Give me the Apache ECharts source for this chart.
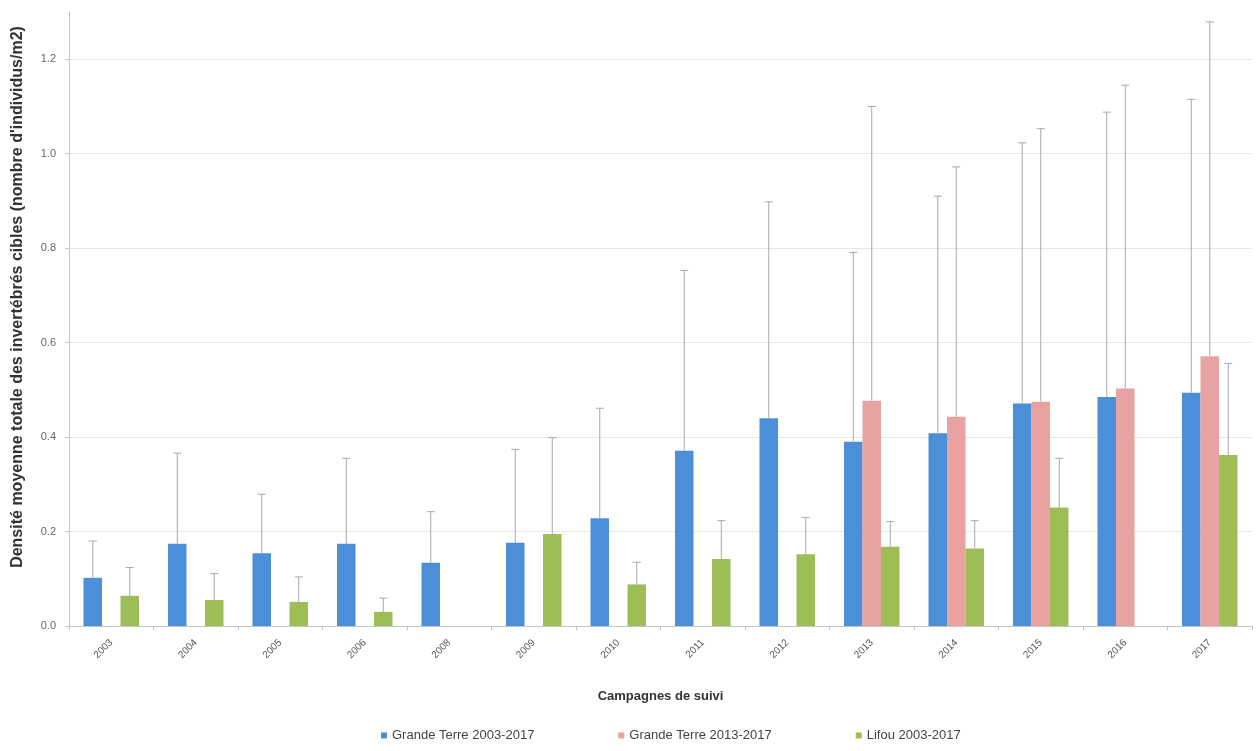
<!DOCTYPE html>
<html>
<head>
<meta charset="utf-8">
<script src="https://cdn.jsdelivr.net/npm/echarts@6/dist/echarts.min.js"></script>
<style>
html,body{margin:0;padding:0;background:#fff;}
#chart{width:1259px;height:751px;}
</style>
</head>
<body>
<div id="chart"></div>
<script>
// ---- data ----
const years = ['2003','2004','2005','2006','2008','2009','2010','2011','2012','2013','2014','2015','2016','2017'];
const seriesNames = ['Grande Terre 2003-2017','Grande Terre 2013-2017','Lifou 2003-2017'];
const gtAll      = [0.102,0.174,0.154,0.174,0.134,0.176,0.228,0.371,0.440,0.390,0.408,0.471,0.485,0.494];
const gtAllErr   = [0.078,0.192,0.125,0.181,0.108,0.198,0.233,0.382,0.458,0.401,0.502,0.552,0.603,0.621];
const gtRecent   = [null,null,null,null,null,null,null,null,null,0.477,0.443,0.475,0.503,0.571];
const gtRecentErr= [null,null,null,null,null,null,null,null,null,0.623,0.529,0.578,0.642,0.708];
const lifou      = [0.064,0.055,0.051,0.030,null,0.195,0.088,0.142,0.152,0.168,0.164,0.251,null,0.362];
const lifouErr   = [0.060,0.056,0.053,0.029,null,0.204,0.047,0.081,0.078,0.053,0.059,0.104,null,0.194];
const yTicks = [0,0.2,0.4,0.6,0.8,1.0,1.2];

// ---- styles ----
const colors = ['#4a8fd8','#e8a2a2','#9dbd57'];
const BAR_W = 18.5;
const FONT = '"Liberation Sans", Arial, sans-serif';

function errSeries(name, means, errs, slot){
  const data = [];
  means.forEach((m,i)=>{ if(m!=null && errs[i]!=null) data.push([i, m, errs[i]]); });
  return {
    name: name,
    type: 'custom',
    z: 5,
    silent: true,
    data: data,
    encode: {x: 0, y: 1},
    renderItem: function(params, api){
      const i = api.value(0), m = api.value(1), e = api.value(2);
      const b = api.coord([i, m]);
      const t = api.coord([i, m + e]);
      const x = b[0] + slot * BAR_W;
      const st = {stroke: '#a8a8a8', lineWidth: 1};
      return {
        type: 'group',
        children: [
          {type:'line', shape:{x1:x, y1:b[1], x2:x, y2:t[1]}, style: st},
          {type:'line', shape:{x1:x-4, y1:t[1], x2:x+4, y2:t[1]}, style: st}
        ]
      };
    }
  };
}

const chart = echarts.init(document.getElementById('chart'));
chart.setOption({
  animation: false,
  backgroundColor: '#fff',
  color: colors,
  textStyle: {fontFamily: FONT},
  grid: {left: 69, right: 7, top: 12, bottom: 125, containLabel: false, outerBoundsMode: 'none'},
  legend: {
    data: seriesNames,
    bottom: 4,
    left: 376,
    icon: 'rect',
    itemWidth: 6,
    itemHeight: 6,
    itemGap: 84,
    textStyle: {fontSize: 13, color: '#444', fontFamily: FONT}
  },
  xAxis: {
    type: 'category',
    data: years,
    name: 'Campagnes de suivi',
    nameLocation: 'middle',
    nameGap: 64,
    nameTextStyle: {fontSize: 13, fontWeight: 'bold', color: '#333', fontFamily: FONT},
    axisLine: {lineStyle: {color: '#c4c4c4'}},
    axisTick: {show: true, length: 4, lineStyle: {color: '#c4c4c4'}},
    axisLabel: {rotate: 45, interval: 0, fontSize: 10, color: '#555', margin: 15}
  },
  yAxis: {
    type: 'value',
    min: 0,
    max: 1.3,
    interval: 0.2,
    name: "Densité moyenne totale des invertébrés cibles (nombre d'individus/m2)",
    nameLocation: 'middle',
    nameGap: 43,
    nameTextStyle: {fontSize: 16, fontWeight: 'bold', color: '#333', fontFamily: FONT, padding: [0, 0, 0, 44]},
    axisLine: {show: true, lineStyle: {color: '#c4c4c4'}},
    axisTick: {show: true, length: 4, lineStyle: {color: '#c4c4c4'}, customValues: yTicks},
    axisLabel: {
      fontSize: 11, color: '#666', margin: 13,
      customValues: yTicks,
      formatter: v => v.toFixed(1)
    },
    splitLine: {show: true, lineStyle: {color: '#e6e6e6'}}
  },
  series: [
    {name: seriesNames[0], type: 'bar', data: gtAll, barWidth: BAR_W, barGap: '0%', z: 2},
    {name: seriesNames[1], type: 'bar', data: gtRecent, barWidth: BAR_W, barGap: '0%', z: 2},
    {name: seriesNames[2], type: 'bar', data: lifou, barWidth: BAR_W, barGap: '0%', z: 2},
    errSeries(seriesNames[0], gtAll, gtAllErr, -1),
    errSeries(seriesNames[1], gtRecent, gtRecentErr, 0),
    errSeries(seriesNames[2], lifou, lifouErr, 1)
  ]
});
</script>
</body>
</html>
